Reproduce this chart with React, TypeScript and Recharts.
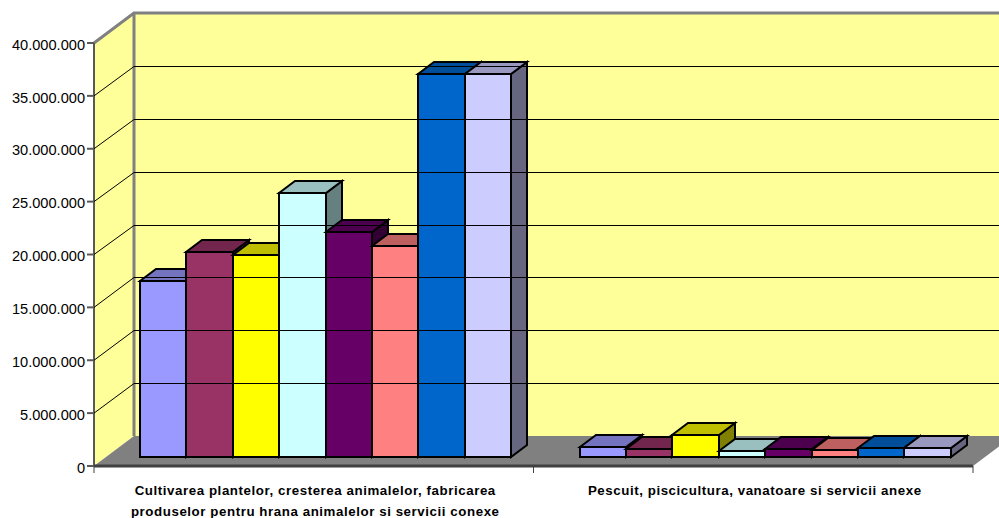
import { BarChart, Bar, XAxis, YAxis, ReferenceArea, ReferenceLine } from 'recharts';

const categories = [
  ['Cultivarea plantelor, cresterea animalelor, fabricarea', 'produselor pentru hrana animalelor si servicii conexe'],
  ['Pescuit, piscicultura, vanatoare si servicii anexe'],
];
const seriesA = [16640000, 950000];
const seriesB = [19400000, 760000];
const seriesC = [19100000, 2080000];
const seriesD = [25000000, 570000];
const seriesE = [21300000, 760000];
const seriesF = [20000000, 660000];
const seriesG = [36200000, 850000];
const seriesH = [36200000, 880000];
const allSeries = [seriesA, seriesB, seriesC, seriesD, seriesE, seriesF, seriesG, seriesH];
const colors = ['#9999FF', '#993366', '#FFFF00', '#CCFFFF', '#660066', '#FF8080', '#0066CC', '#CCCCFF'];
const yTicks = [0, 5000000, 10000000, 15000000, 20000000, 25000000, 30000000, 35000000, 40000000];

const data = categories.map((lines, i) => {
  const row: any = { name: i, lines };
  allSeries.forEach((s, j) => { row['s' + j] = s[i]; });
  return row;
});

// depth of the box and where the bars sit inside it
const DEPTH_X = 40;
const DEPTH_Y = 30;
const BAR_X = 12;
const BAR_Y = 9;
const BAR_DX = 16;
const BAR_DY = 12;

function shade(hex: string, f: number) {
  const n = parseInt(hex.slice(1), 16);
  const c = [(n >> 16) & 255, (n >> 8) & 255, n & 255].map(v => Math.round(v * f));
  return `rgb(${c[0]},${c[1]},${c[2]})`;
}

function Bar3D(props: any) {
  const { x, y, width, height, fill } = props;
  // snap to whole pixels so the black outlines stay crisp
  const l = Math.round(x + BAR_X);
  const r = Math.round(x + BAR_X + width);
  const t = Math.round(y - BAR_Y);
  const b = Math.round(y - BAR_Y + height);
  const common = { stroke: '#000', strokeWidth: 2, strokeLinejoin: 'miter' as const };
  return (
    <g>
      <polygon points={`${r},${t} ${r + BAR_DX},${t - BAR_DY} ${r + BAR_DX},${b - BAR_DY} ${r},${b}`} fill={shade(fill, 0.5)} {...common} />
      <polygon points={`${l},${t} ${l + BAR_DX},${t - BAR_DY} ${r + BAR_DX},${t - BAR_DY} ${r},${t}`} fill={shade(fill, 0.75)} {...common} />
      <rect x={l} y={t} width={r - l} height={b - t} fill={fill} {...common} />
    </g>
  );
}

function Walls(props: any) {
  const { x, y, width, height } = props;
  const bottom = y + height;
  return (
    <g>
      <polygon points={`${x},${y} ${x + DEPTH_X},${y - DEPTH_Y} ${x + DEPTH_X},${bottom - DEPTH_Y} ${x},${bottom}`} fill="#FFFF99" />
      <rect x={x + DEPTH_X} y={y - DEPTH_Y} width={width} height={height} fill="#FFFF99" />
    </g>
  );
}

function Frame(props: any) {
  const { x, y, width, height } = props;
  const bottom = y + height;
  const right = x + width;
  const gray = { stroke: '#808080', strokeWidth: 3, fill: 'none' };
  return (
    <g>
      <polygon points={`${x},${bottom} ${x + DEPTH_X},${bottom - DEPTH_Y} ${right + DEPTH_X},${bottom - DEPTH_Y} ${right},${bottom}`} fill="#808080" />
      <polyline points={`${x},${y} ${x + DEPTH_X},${y - DEPTH_Y} ${right + DEPTH_X},${y - DEPTH_Y}`} {...gray} />
      <line x1={x + DEPTH_X} y1={y - DEPTH_Y} x2={x + DEPTH_X} y2={bottom - DEPTH_Y} {...gray} />
      <line x1={x} y1={y} x2={x} y2={bottom} stroke="#595959" strokeWidth={2} />
      <line x1={x} y1={bottom} x2={right} y2={bottom} stroke="#404040" strokeWidth={3} />
      {[x, x + width / 2, right].map(tx => (
        <line key={tx} x1={tx} y1={bottom} x2={tx} y2={bottom + 7} stroke="#404040" strokeWidth={1} />
      ))}
    </g>
  );
}

function GridLine(props: any) {
  const { x1, y1, x2 } = props;
  const back = Math.round(y1 - DEPTH_Y) + 0.5;
  return (
    <g>
      <line x1={x1} y1={y1} x2={x1 + DEPTH_X} y2={back} stroke="#000" strokeWidth={1} />
      <line x1={x1 + DEPTH_X} y1={back} x2={x2 + DEPTH_X} y2={back} stroke="#000" strokeWidth={1} />
    </g>
  );
}

function CategoryTick(props: any) {
  const { x, y, payload } = props;
  const lines = categories[payload.value];
  return (
    <text x={x + 1.5} y={y} textAnchor="middle" fontFamily="Liberation Sans, Arial, sans-serif" fontWeight="bold" fontSize={13.3} letterSpacing={0.57} fill="#000">
      {lines.map((line: string, i: number) => (
        <tspan key={i} x={x + 1.5} dy={21}>{line}</tspan>
      ))}
    </text>
  );
}

export default function App() {
  return (
    <div style={{ position: 'absolute', left: 0, top: 0, width: 999, height: 518, background: '#fff', overflow: 'hidden' }}>
      <BarChart
        width={999}
        height={518}
        data={data}
        margin={{ top: 43, right: 26, left: 0, bottom: 0 }}
        barGap={0}
        barSize={46.4}
      >
        <ReferenceArea y1={0} y2={40000000} ifOverflow="visible" shape={Walls} />
        {yTicks.slice(1, -1).map(t => (
          <ReferenceLine key={t} y={t} ifOverflow="visible" shape={GridLine} />
        ))}
        <ReferenceArea y1={0} y2={40000000} ifOverflow="visible" shape={Frame} />
        <XAxis dataKey="name" height={52} tick={CategoryTick} tickLine={false} axisLine={false} interval={0} />
        <YAxis
          width={94}
          domain={[0, 40000000]}
          ticks={yTicks}
          interval={0}
          tickFormatter={(v: number) => v.toLocaleString('de-DE')}
          tick={{ fill: '#000', fontSize: 14.6, fontFamily: 'Liberation Sans, Arial, sans-serif', dy: 1.5 }}
          tickLine={{ stroke: '#595959', strokeWidth: 2 }}
          tickSize={7}
          axisLine={false}
        />
        {colors.map((c, i) => (
          <Bar key={i} dataKey={'s' + i} fill={c} shape={Bar3D} isAnimationActive={false} />
        ))}
      </BarChart>
    </div>
  );
}
